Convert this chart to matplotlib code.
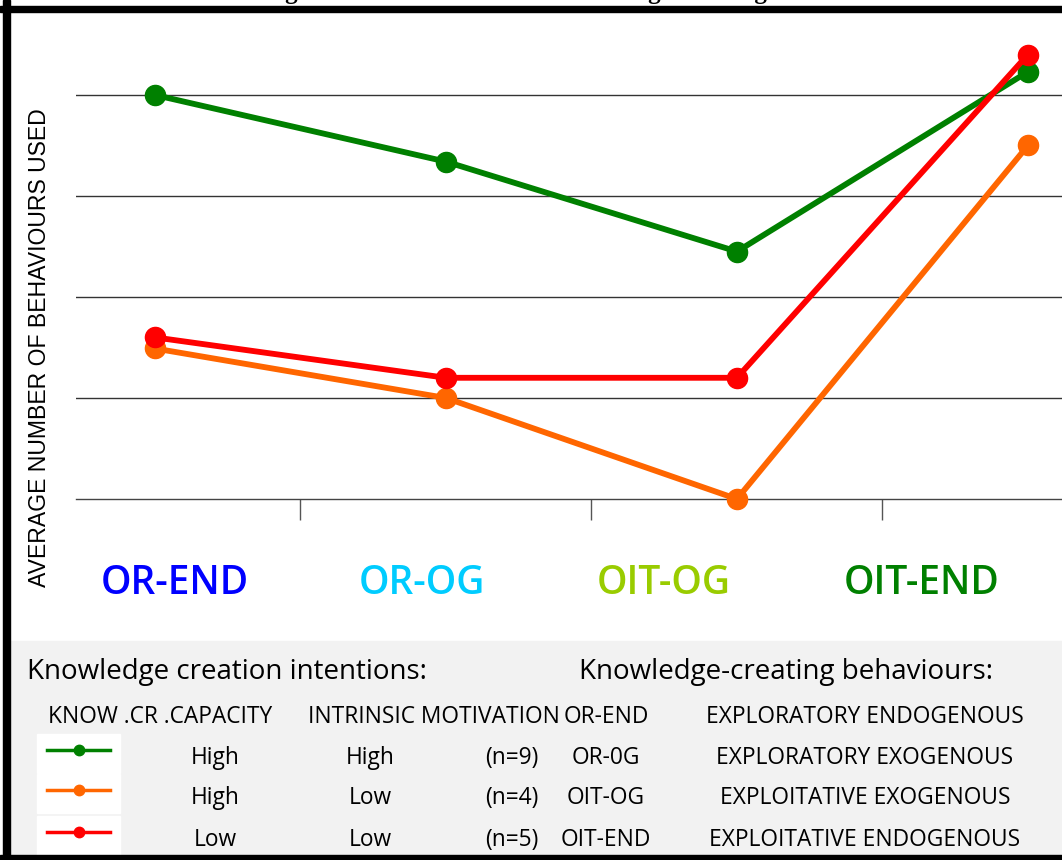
import matplotlib
matplotlib.use('Agg')
import matplotlib.pyplot as plt
from matplotlib.patches import Rectangle
from matplotlib.lines import Line2D


# average number of behaviours used per behaviour type
categories = ['OR-END', 'OR-OG', 'OIT-OG', 'OIT-END']
cat_colors = ['#0000ff', '#00ccff', '#99cc00', '#008000']

high_high = [5.0, 4.34, 3.45, 5.23]   # n=9
high_low = [2.49, 2.0, 1.0, 4.5]      # n=4
low_low = [2.6, 2.2, 2.2, 5.4]        # n=5

capacity = ['High', 'High', 'Low']
motivation = ['High', 'Low', 'Low']
group_n = ['(n=9)', '(n=4)', '(n=5)']
group_colors = ['#008000', '#ff6600', '#ff0000']

behav_codes = ['OR-END', 'OR-0G', 'OIT-OG', 'OIT-END']
behav_names = ['EXPLORATORY ENDOGENOUS', 'EXPLORATORY EXOGENOUS',
               'EXPLOITATIVE EXOGENOUS', 'EXPLOITATIVE ENDOGENOUS']

W, H = 1062, 860


def fx(x):
    return x / W


def fy(y):
    return 1 - y / H


fig = plt.figure(figsize=(W / 100, H / 100), dpi=100)

# title sits above the frame
fig.text(fx(50), fy(-1), 'The effect of Knowledge creation intentions on Knowledge-creating behaviours',
         family='Liberation Serif', weight='bold', fontsize=18, va='baseline', ha='left')

ax = fig.add_axes([fx(76), fy(499), 1 - fx(76), fy(18) - fy(499)])
x = list(range(len(categories)))
for vals, col in zip([high_low, high_high, low_low], ['#ff6600', '#008000', '#ff0000']):
    ax.plot(x, vals, color=col, lw=4.2, marker='o', ms=14.5, clip_on=False, zorder=3)

ax.set_xlim(-0.271, 3.117)
ax.set_ylim(1, 5.762)
ax.set_yticks([2, 3, 4, 5])
ax.set_yticklabels([])
ax.tick_params(axis='y', length=0)
ax.grid(axis='y', color='#333333', lw=1)
ax.set_xticks([0.5, 1.5, 2.5])
ax.set_xticklabels([])
ax.tick_params(axis='x', length=15, width=1, color='#555555', direction='out')
for s in ['top', 'right', 'left']:
    ax.spines[s].set_visible(False)
ax.spines['bottom'].set_color('#444444')
ax.spines['bottom'].set_linewidth(1)

fig.text(fx(40), fy(348), 'AVERAGE NUMBER OF BEHAVIOURS USED', rotation=90,
         family='Liberation Sans', fontsize=16.6, ha='center', va='center')

label_x = [175, 422, 664, 922]
for lab, lx, c in zip(categories, label_x, cat_colors):
    fig.text(fx(lx), fy(584), lab, color=c, family='Open Sans', weight='semibold',
             fontsize=28, ha='center', va='center')

# legend panel
fig.add_artist(Rectangle((fx(10), fy(855)), 1, fy(641) - fy(855),
                         transform=fig.transFigure, color='#f2f2f2', zorder=0))
fig.text(fx(27), fy(672), 'Knowledge creation intentions:', family='Open Sans',
         fontsize=20, va='center', ha='left')
fig.text(fx(786), fy(672), 'Knowledge-creating behaviours:', family='Open Sans',
         fontsize=20, va='center', ha='center')

fs = 16.4
fig.text(fx(160), fy(717), 'KNOW .CR .CAPACITY', family='Open Sans', fontsize=fs, ha='center', va='center')
fig.text(fx(434), fy(717), 'INTRINSIC MOTIVATION', family='Open Sans', fontsize=fs, ha='center', va='center')

row_y = [758, 798, 840]
for i, ry in enumerate(row_y):
    fig.add_artist(Rectangle((fx(37), fy(ry + 15)), fx(120) - fx(37), fy(ry - 24) - fy(ry + 15),
                             transform=fig.transFigure, color='white', zorder=1))
    fig.add_artist(Line2D([fx(47), fx(110)], [fy(ry - 8), fy(ry - 8)], transform=fig.transFigure,
                          color=group_colors[i], lw=2.5, zorder=2))
    fig.add_artist(Line2D([fx(79)], [fy(ry - 8)], transform=fig.transFigure,
                          color=group_colors[i], marker='o', ms=7.5, zorder=2))
    fig.text(fx(215), fy(ry), capacity[i], family='Open Sans', fontsize=fs, ha='center', va='center')
    fig.text(fx(370), fy(ry), motivation[i], family='Open Sans', fontsize=fs, ha='center', va='center')
    fig.text(fx(512), fy(ry), group_n[i], family='Open Sans', fontsize=fs, ha='center', va='center')

behav_y = [717] + row_y
for code, name, by in zip(behav_codes, behav_names, behav_y):
    fig.text(fx(606), fy(by), code, family='Open Sans', fontsize=fs, ha='center', va='center')
    fig.text(fx(865), fy(by), name, family='Open Sans', fontsize=fs, ha='center', va='center')

# black frame
fig.add_artist(Rectangle((fx(3), 0), fx(7), 1, transform=fig.transFigure, color='black', zorder=5))
fig.add_artist(Rectangle((0, fy(12)), 1, fy(6) - fy(12), transform=fig.transFigure, color='black', zorder=5))
fig.add_artist(Rectangle((0, 0), 1, fy(855), transform=fig.transFigure, color='black', zorder=5))

fig.savefig('out.png', dpi=100)
